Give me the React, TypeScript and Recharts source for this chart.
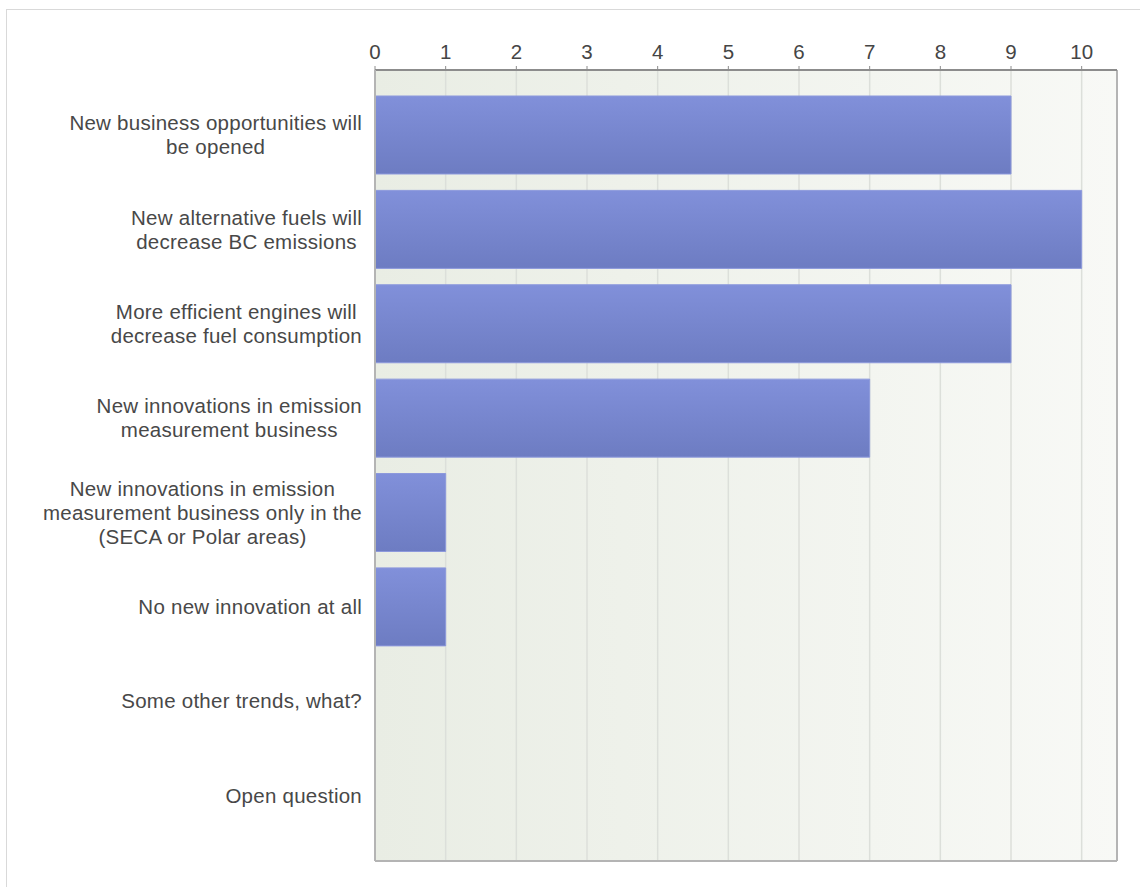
import React from 'react';
import { BarChart, Bar, XAxis, YAxis, CartesianGrid, ReferenceLine } from 'recharts';

const categories = [
  'New business opportunities will\nbe opened',
  'New alternative fuels will\ndecrease BC emissions',
  'More efficient engines will\ndecrease fuel consumption',
  'New innovations in emission\nmeasurement business',
  'New innovations in emission\nmeasurement business only in the\n(SECA or Polar areas)',
  'No new innovation at all',
  'Some other trends, what?',
  'Open question',
];
const counts = [9, 10, 9, 7, 1, 1, 0, 0];
const xTicks = [0, 1, 2, 3, 4, 5, 6, 7, 8, 9, 10];

const data = categories.map((name, i) => ({ name, value: counts[i] }));

const FONT = '"Liberation Sans", Arial, sans-serif';

const CategoryTick = (props: any) => {
  const { x, y, payload } = props;
  const w = 362;
  const h = 100;
  return (
    <foreignObject x={x - 375} y={y - h / 2} width={w} height={h}>
      <div
        style={{
          width: w,
          height: h,
          display: 'flex',
          alignItems: 'center',
          justifyContent: 'flex-end',
        }}
      >
        <div
          style={{
            textAlign: 'center',
            whiteSpace: 'pre-line',
            fontFamily: FONT,
            fontSize: 20.5,
            letterSpacing: 0.25,
            lineHeight: '24px',
            color: '#484848',
          }}
        >
          {payload.value}
        </div>
      </div>
    </foreignObject>
  );
};

export default function App() {
  return (
    <div style={{ position: 'absolute', left: 0, top: 0, width: 1140, height: 887, background: '#fff' }}>
      <div
        style={{
          position: 'absolute',
          left: 6,
          top: 9,
          width: 1134,
          height: 878,
          borderLeft: '1px solid #d9d9d9',
          borderTop: '1px solid #d9d9d9',
          boxSizing: 'border-box',
        }}
      />
      <div style={{ position: 'absolute', left: 0, top: 0 }}>
        <BarChart
          width={1140}
          height={887}
          data={data}
          layout="vertical"
          margin={{ top: 30, right: 23, bottom: 25, left: 10 }}
          barSize={78}
        >
          <defs>
            <linearGradient id="bgGrad" x1="0" y1="0" x2="1" y2="0">
              <stop offset="0%" stopColor="#e9ede4" />
              <stop offset="100%" stopColor="#f8f9f6" />
            </linearGradient>
            <linearGradient id="barGrad" x1="0" y1="0" x2="0" y2="1">
              <stop offset="0%" stopColor="#8190da" />
              <stop offset="100%" stopColor="#6d7cc2" />
            </linearGradient>
          </defs>
          <CartesianGrid
            horizontal={false}
            vertical={true}
            stroke="#dcdfda"
            strokeWidth={1.5}
            fill="url(#bgGrad)"
            fillOpacity={1}
            xAxisId="top"
          />
          <XAxis
            xAxisId="top"
            type="number"
            orientation="top"
            domain={[0, 10.5]}
            ticks={xTicks}
            interval={0}
            height={40}
            tickSize={4}
            tickMargin={7}
            axisLine={{ stroke: '#8c8c8c', strokeWidth: 2 }}
            tickLine={{ stroke: '#8c8c8c' }}
            tick={{ fill: '#454545', fontSize: 20.5, fontFamily: FONT }}
            allowDataOverflow
          />
          <XAxis
            xAxisId="bottom"
            type="number"
            orientation="bottom"
            domain={[0, 10.5]}
            height={1}
            tick={false}
            tickLine={false}
            axisLine={{ stroke: '#b4b4b4', strokeWidth: 2 }}
          />
          <YAxis
            type="category"
            dataKey="name"
            width={365}
            padding={{ top: 18, bottom: 18 }}
            tickSize={0}
            tickMargin={0}
            tickLine={false}
            interval={0}
            axisLine={{ stroke: '#b4b4b4', strokeWidth: 2 }}
            tick={<CategoryTick />}
          />
          <ReferenceLine xAxisId="top" x={10.5} stroke="#b4b4b4" strokeWidth={2} />
          <Bar
            xAxisId="top"
            dataKey="value"
            fill="url(#barGrad)"
            stroke="#8d99dc"
            strokeWidth={1}
            isAnimationActive={false}
          />
        </BarChart>
      </div>
    </div>
  );
}
